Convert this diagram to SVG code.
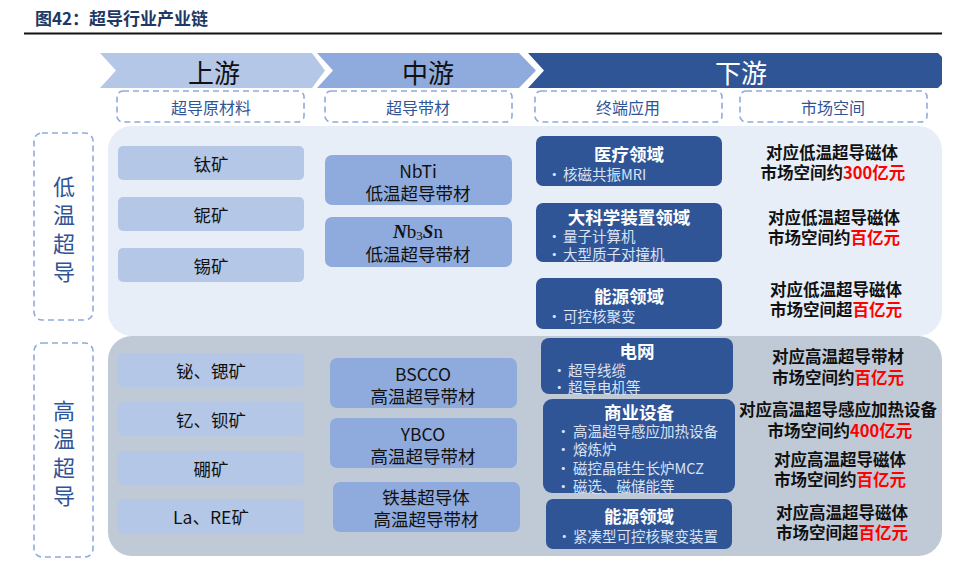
<svg xmlns="http://www.w3.org/2000/svg" width="960" height="562" viewBox="0 0 960 562">
<style>
text{font-family:"Noto Sans CJK SC","Liberation Sans",sans-serif;dominant-baseline:central}
.hdr{font-size:26px;text-anchor:middle}
.sub{font-size:16px;fill:#2f5597;text-anchor:middle}
.dash{fill:none;stroke:#8faadc;stroke-width:1.6;stroke-dasharray:6 4}
.vt{font-size:22px;fill:#2f5597;text-anchor:middle}
.up{fill:#b4c7e7}
.upt{font-size:17.5px;fill:#111;text-anchor:middle}
.mid{fill:#8faadc}
.midt{font-size:17.5px;fill:#111;text-anchor:middle}
.down{fill:#2f5597}
.dt{font-size:17.5px;font-weight:bold;fill:#fff;text-anchor:middle}
.bl{font-size:14.5px;fill:#dae3f3}
.mk{font-size:16.5px;font-weight:bold;fill:#111;text-anchor:middle}
.mkl{font-size:16.5px;font-weight:bold;fill:#111;text-anchor:end}
.red{font-size:16.5px;font-weight:bold;fill:#ff0000;text-anchor:start}
</style>
<g id="title">
<text x="35" y="17" style="font-size:17px;font-weight:bold;fill:#203864">图42：超导行业产业链</text>
<line x1="24" y1="33.5" x2="942" y2="33.5" stroke="#111" stroke-width="2"/>
</g>
<g id="headers">
<path d="M100,53 H312 L325,70.5 L312,88 H100 L116,70.5 Z" fill="#b4c7e7"/>
<text class="hdr" x="214" y="71" fill="#111">上游</text>
<path d="M317,53 H519 L536,70.5 L519,88 H317 L333,70.5 Z" fill="#8faadc"/>
<text class="hdr" x="428" y="71" fill="#111">中游</text>
<path d="M528,53 H938 L942,57 V84 L938,88 H528 L544,70.5 Z" fill="#2f5597"/>
<text class="hdr" x="741" y="71" fill="#fff">下游</text>
</g>
<g id="subheaders">
<rect class="dash" x="117" y="91" width="187" height="31" rx="6"/>
<text class="sub" x="211" y="107">超导原材料</text>
<rect class="dash" x="325" y="91" width="187" height="31" rx="6"/>
<text class="sub" x="418" y="107">超导带材</text>
<rect class="dash" x="535" y="91" width="187" height="31" rx="6"/>
<text class="sub" x="628" y="107">终端应用</text>
<rect class="dash" x="740" y="91" width="187" height="31" rx="6"/>
<text class="sub" x="833" y="107">市场空间</text>
</g>
<g id="panels">
<rect x="108" y="126" width="834" height="210" rx="24" fill="#e7eef7"/>
<rect x="108" y="336" width="834" height="220" rx="24" fill="#bfcad6"/>
</g>
<g id="low-label">
<rect class="dash" x="34" y="133" width="59" height="187" rx="8"/>
<text class="vt" x="64" y="185">低</text>
<text class="vt" x="64" y="213">温</text>
<text class="vt" x="64" y="242">超</text>
<text class="vt" x="64" y="270">导</text>
</g>
<g id="high-label">
<rect class="dash" x="34" y="343" width="59" height="214" rx="8"/>
<text class="vt" x="64" y="409">高</text>
<text class="vt" x="64" y="437">温</text>
<text class="vt" x="64" y="466">超</text>
<text class="vt" x="64" y="494">导</text>
</g>
<g id="up-ti"><rect class="up" x="118" y="146" width="186" height="34" rx="5"/><text class="upt" x="211" y="163">钛矿</text></g>
<g id="up-nb"><rect class="up" x="118" y="197" width="186" height="34" rx="5"/><text class="upt" x="211" y="214">铌矿</text></g>
<g id="up-sn"><rect class="up" x="118" y="248" width="186" height="34" rx="5"/><text class="upt" x="211" y="265">锡矿</text></g>
<g id="up-bi"><rect class="up" x="118" y="353" width="186" height="34" rx="5"/><text class="upt" x="211" y="370">铋、锶矿</text></g>
<g id="up-y"><rect class="up" x="118" y="402" width="186" height="34" rx="5"/><text class="upt" x="211" y="419">钇、钡矿</text></g>
<g id="up-b"><rect class="up" x="118" y="451" width="186" height="34" rx="5"/><text class="upt" x="211" y="468">硼矿</text></g>
<g id="up-la"><rect class="up" x="118" y="499" width="186" height="35" rx="5"/><text class="upt" x="211" y="516">La、RE矿</text></g>
<g id="mid-nbti"><rect class="mid" x="325" y="155" width="187" height="50" rx="7"/><text class="midt" x="418" y="170">NbTi</text><text class="midt" x="418" y="192">低温超导带材</text></g>
<g id="mid-nb3sn"><rect class="mid" x="325" y="217" width="187" height="50" rx="7"/><text class="midt" x="418" y="231" style="font-family:'Liberation Serif',serif;font-size:19px"><tspan font-weight="bold" font-style="italic">N</tspan>b<tspan font-size="13" dy="4">3</tspan><tspan font-weight="bold" font-style="italic" dy="-4">S</tspan>n</text><text class="midt" x="418" y="253">低温超导带材</text></g>
<g id="mid-bscco"><rect class="mid" x="330" y="358" width="187" height="50" rx="7"/><text class="midt" x="423" y="373">BSCCO</text><text class="midt" x="423" y="395">高温超导带材</text></g>
<g id="mid-ybco"><rect class="mid" x="330" y="418" width="187" height="50" rx="7"/><text class="midt" x="423" y="433">YBCO</text><text class="midt" x="423" y="455">高温超导带材</text></g>
<g id="mid-fe"><rect class="mid" x="333" y="482" width="187" height="50" rx="7"/><text class="midt" x="426" y="496">铁基超导体</text><text class="midt" x="426" y="518">高温超导带材</text></g>
<g id="down-med"><rect class="down" x="536" y="136" width="186" height="50" rx="7"/><text class="dt" x="629" y="153">医疗领域</text><text class="bl" x="547" y="173">•</text><text class="bl" x="563" y="173">核磁共振MRI</text></g>
<g id="down-sci"><rect class="down" x="536" y="203" width="186" height="59" rx="7"/><text class="dt" x="629" y="216">大科学装置领域</text><text class="bl" x="547" y="235">•</text><text class="bl" x="563" y="235">量子计算机</text><text class="bl" x="547" y="253">•</text><text class="bl" x="563" y="253">大型质子对撞机</text></g>
<g id="down-energy-low"><rect class="down" x="536" y="278" width="186" height="51" rx="7"/><text class="dt" x="629" y="295">能源领域</text><text class="bl" x="547" y="315">•</text><text class="bl" x="563" y="315">可控核聚变</text></g>
<g id="down-grid"><rect class="down" x="541" y="338" width="192" height="56" rx="8"/><text class="dt" x="637" y="350">电网</text><text class="bl" x="552" y="369">•</text><text class="bl" x="568" y="369">超导线缆</text><text class="bl" x="552" y="386">•</text><text class="bl" x="568" y="386">超导电机等</text></g>
<g id="down-comm"><rect class="down" x="543" y="399" width="192" height="94" rx="9"/><text class="dt" x="639" y="411">商业设备</text><text class="bl" x="556" y="430">•</text><text class="bl" x="573" y="430">高温超导感应加热设备</text><text class="bl" x="556" y="448">•</text><text class="bl" x="573" y="448">熔炼炉</text><text class="bl" x="556" y="467">•</text><text class="bl" x="573" y="467">磁控晶硅生长炉MCZ</text><text class="bl" x="556" y="485">•</text><text class="bl" x="573" y="485">磁选、磁储能等</text></g>
<g id="down-energy-high"><rect class="down" x="546" y="499" width="186" height="50" rx="7"/><text class="dt" x="639" y="515">能源领域</text><text class="bl" x="557" y="535">•</text><text class="bl" x="573" y="535">紧凑型可控核聚变装置</text></g>
<g id="mk1"><text class="mk" x="832" y="152">对应低温超导磁体</text><text class="mkl" x="843" y="172">市场空间约</text><text class="red" x="843" y="172">300亿元</text></g>
<g id="mk2"><text class="mk" x="834" y="217">对应低温超导磁体</text><text class="mkl" x="850.5" y="237">市场空间约</text><text class="red" x="850.5" y="237">百亿元</text></g>
<g id="mk3"><text class="mk" x="836" y="289">对应低温超导磁体</text><text class="mkl" x="852.5" y="309">市场空间超</text><text class="red" x="852.5" y="309">百亿元</text></g>
<g id="mk4"><text class="mk" x="838" y="356">对应高温超导带材</text><text class="mkl" x="854.5" y="377">市场空间约</text><text class="red" x="854.5" y="377">百亿元</text></g>
<g id="mk5"><text class="mk" x="838" y="409">对应高温超导感应加热设备</text><text class="mkl" x="850" y="430">市场空间约</text><text class="red" x="850" y="430">400亿元</text></g>
<g id="mk6"><text class="mk" x="840" y="459">对应高温超导磁体</text><text class="mkl" x="856.5" y="479">市场空间约</text><text class="red" x="856.5" y="479">百亿元</text></g>
<g id="mk7"><text class="mk" x="842" y="512">对应高温超导磁体</text><text class="mkl" x="858.5" y="532">市场空间超</text><text class="red" x="858.5" y="532">百亿元</text></g>
<g id="connectors"/>
</svg>
